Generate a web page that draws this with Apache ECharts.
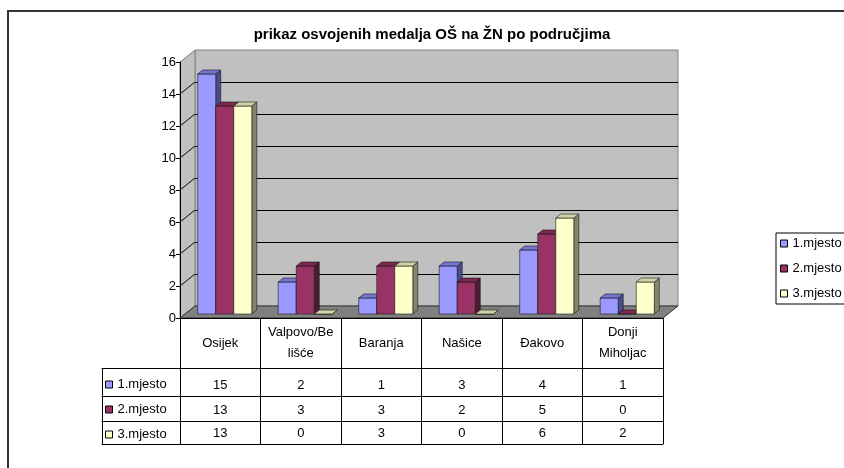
<!DOCTYPE html>
<html>
<head>
<meta charset="utf-8">
<script src="https://cdn.jsdelivr.net/npm/echarts@6/dist/echarts.min.js"></script>
<style>
html, body { margin: 0; padding: 0; background: #fff; }
#chart { width: 844px; height: 468px; }
</style>
</head>
<body>
<div id="chart"></div>
<script>
// podaci
var categories = ['Osijek', 'Valpovo/Be\nlišće', 'Baranja', 'Našice', 'Đakovo', 'Donji\nMiholjac'];
var seriesNames = ['1.mjesto', '2.mjesto', '3.mjesto'];
var prvoMjesto = [15, 2, 1, 3, 4, 1];
var drugoMjesto = [13, 3, 3, 2, 5, 0];
var treceMjesto = [13, 0, 3, 0, 6, 2];
var yTicks = [0, 2, 4, 6, 8, 10, 12, 14, 16];

var tableRows = [prvoMjesto, drugoMjesto, treceMjesto];
var FONT = '"Liberation Sans", Arial, sans-serif';

// boje stupaca: prednja, gornja i bocna strana
var boje = [
    { front: '#9999ff', top: '#7474d6', side: '#4a4a8f' },
    { front: '#993366', top: '#7a2850', side: '#4d1a33' },
    { front: '#ffffcc', top: '#d2d2a6', side: '#85856b' }
];

var yMin = yTicks[0], yMax = yTicks[yTicks.length - 1], yStep = yTicks[1] - yTicks[0];

// redovi tablice ispod osi (pomak od ruba poda)
var rowOffsets = [50, 78, 103, 126];
var rowMargins = [17, 14, 12];

var myChart = echarts.init(document.getElementById('chart'));

// 3D stupac
function barItem(s) {
    return function (params, api) {
        var top = api.coord([api.value(0), api.value(1)]);
        var base = api.coord([api.value(0), 0]);
        var band = api.size([1, 0])[0];
        var bw = band * 0.224;
        var x0 = top[0] - bw * 1.5 + s * bw;
        var yt = top[1], yb = base[1];
        var dx = 5, dy = -4;
        var edge = { stroke: '#1a1a1a', lineWidth: 0.6 };
        var c = boje[s];
        return {
            type: 'group',
            children: [
                { type: 'polygon', shape: { points: [[x0 + bw, yt], [x0 + bw + dx, yt + dy], [x0 + bw + dx, yb + dy], [x0 + bw, yb]] },
                  style: Object.assign({ fill: c.side }, edge) },
                { type: 'rect', shape: { x: x0, y: yt, width: bw, height: yb - yt },
                  style: Object.assign({ fill: c.front }, edge) },
                { type: 'polygon', shape: { points: [[x0, yt], [x0 + bw, yt], [x0 + bw + dx, yt + dy], [x0 + dx, yt + dy]] },
                  style: Object.assign({ fill: c.top }, edge) }
            ]
        };
    };
}

// pod i lijevi zid
function wallsItem(params, api) {
    var r = params.coordSys;
    var ddx = -15, ddy = 12;
    var bottom = r.y + r.height;
    var children = [
        { type: 'polygon', shape: { points: [[r.x, r.y], [r.x, bottom], [r.x + ddx, bottom + ddy], [r.x + ddx, r.y + ddy]] },
          style: { fill: '#c0c0c0', stroke: '#808080', lineWidth: 1 } },
        { type: 'polygon', shape: { points: [[r.x, bottom], [r.x + r.width, bottom], [r.x + r.width + ddx, bottom + ddy], [r.x + ddx, bottom + ddy]] },
          style: { fill: '#808080', stroke: '#333', lineWidth: 1 } }
    ];
    yTicks.slice(1, -1).forEach(function (v) {
        var p = api.coord([0, v]);
        children.push({ type: 'line', shape: { x1: r.x, y1: p[1], x2: r.x + ddx, y2: p[1] + ddy },
                        style: { stroke: '#000', lineWidth: 1 } });
    });
    return { type: 'group', children: children };
}

var lineBlack = { onZero: false, lineStyle: { color: '#000', width: 1 } };

var xAxes = [{
    gridIndex: 0, type: 'category', data: categories, position: 'bottom', z: 5,
    axisLine: lineBlack,
    axisTick: { show: true, interval: 0, length: rowOffsets[0], lineStyle: { color: '#000' } },
    axisLabel: { interval: 0, margin: 25, verticalAlign: 'middle', lineHeight: 21,
                 color: '#000', fontSize: 13, fontFamily: FONT }
}];
tableRows.forEach(function (row, i) {
    xAxes.push({
        gridIndex: 0, type: 'category', data: categories, position: 'bottom', offset: rowOffsets[i], z: 5,
        axisLine: lineBlack,
        axisTick: { show: true, interval: 0, length: rowOffsets[i + 1] - rowOffsets[i], lineStyle: { color: '#000' } },
        axisLabel: { interval: 0, margin: rowMargins[i], verticalAlign: 'middle', color: '#000',
                     fontSize: 13, fontFamily: FONT,
                     formatter: function (v, idx) { return String(row[idx]); } }
    });
});
xAxes.push({
    gridIndex: 0, type: 'category', data: categories, position: 'bottom', offset: rowOffsets[3], z: 5,
    axisLine: lineBlack, axisTick: { show: false }, axisLabel: { show: false }
});
// lijevi stupac tablice (nazivi serija)
rowOffsets.forEach(function (off, i) {
    xAxes.push({
        gridIndex: 1, type: 'category', data: [''], position: 'bottom', offset: off, z: 5,
        axisLine: lineBlack,
        axisTick: { show: i < 3, interval: 0, length: i < 3 ? rowOffsets[i + 1] - off : 0, lineStyle: { color: '#000' } },
        axisLabel: { show: false }
    });
});
// straznji zid
xAxes.push({ gridIndex: 2, type: 'category', data: categories, show: false });
// stupci
xAxes.push({ gridIndex: 3, type: 'category', data: categories, show: false });

var option = {
    animation: false,
    backgroundColor: '#fff',
    title: {
        text: 'prikaz osvojenih medalja OŠ na ŽN po područjima',
        left: 432, top: 27, padding: 0, textAlign: 'center',
        textStyle: { fontSize: 15, fontWeight: 'bold', color: '#000', fontFamily: FONT }
    },
    graphic: [{
        type: 'rect', z: 100, silent: true,
        shape: { x: 8, y: 11, width: 900, height: 500 },
        style: { fill: 'none', stroke: '#333', lineWidth: 2 }
    }],
    legend: [{
        data: seriesNames, orient: 'vertical', left: 776, top: 233,
        padding: [3, 40, 3, 4], itemGap: 10, itemWidth: 7, itemHeight: 7, icon: 'rect',
        borderColor: '#000', borderWidth: 1,
        itemStyle: { borderColor: '#000', borderWidth: 1 },
        textStyle: { fontSize: 13, lineHeight: 15, color: '#000', fontFamily: FONT }
    }, {
        data: seriesNames, orient: 'vertical', left: 105, top: 377,
        padding: 0, itemGap: 10, itemWidth: 7, itemHeight: 7, icon: 'rect',
        itemStyle: { borderColor: '#000', borderWidth: 1 },
        textStyle: { fontSize: 13, lineHeight: 15, color: '#000', fontFamily: FONT }
    }],
    grid: [
        { left: 180, top: 62, width: 483, height: 256 },   // prednja os + tablica
        { left: 102, top: 62, width: 78, height: 256 },    // lijevi stupac tablice
        { left: 195, top: 50, width: 483, height: 256, show: true,
          backgroundColor: '#c0c0c0', borderColor: '#808080', borderWidth: 1 },  // straznji zid
        { left: 184.5, top: 58, width: 483, height: 256 }  // stupci
    ],
    xAxis: xAxes,
    yAxis: [
        { gridIndex: 0, type: 'value', min: yMin, max: yMax, interval: yStep, z: 5,
          axisLine: { show: true, onZero: false, lineStyle: { color: '#000' } },
          axisTick: { show: true, length: 4, lineStyle: { color: '#000' } },
          axisLabel: { margin: 4, color: '#000', fontSize: 13, fontFamily: FONT },
          splitLine: { show: false } },
        { gridIndex: 1, type: 'value', show: false, splitLine: { show: false } },
        { gridIndex: 2, type: 'value', min: yMin, max: yMax, interval: yStep,
          axisLine: { show: false }, axisTick: { show: false }, axisLabel: { show: false },
          splitLine: { show: true, showMinLine: false, showMaxLine: false, lineStyle: { color: '#000', width: 1 } } },
        { gridIndex: 3, type: 'value', min: yMin, max: yMax, show: false, splitLine: { show: false } }
    ],
    series: [{
        type: 'custom', name: 'zidovi', xAxisIndex: 9, yAxisIndex: 2, z: 1, silent: true,
        renderItem: wallsItem, data: [[0, 0]]
    }].concat(tableRows.map(function (row, s) {
        return {
            type: 'custom', name: seriesNames[s], xAxisIndex: 10, yAxisIndex: 3, z: 3,
            itemStyle: { color: boje[s].front },
            encode: { x: 0, y: 1 },
            renderItem: barItem(s),
            data: row.map(function (v, i) { return [i, v]; })
        };
    }))
};
myChart.setOption(option);
</script>
</body>
</html>
